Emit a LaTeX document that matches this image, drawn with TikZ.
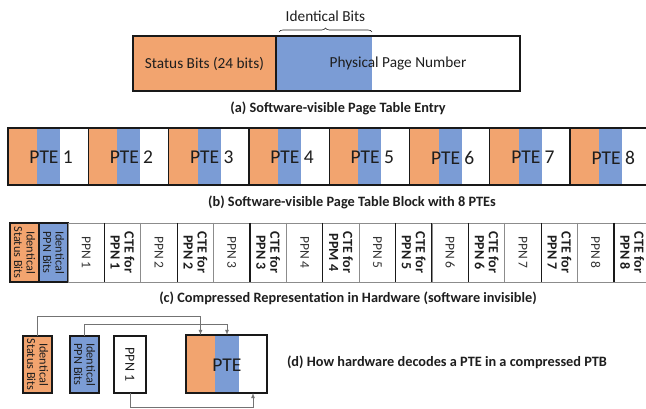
\documentclass[tikz,border=0pt]{standalone}
\usepackage{fontspec}
\setmainfont{Carlito}
\usetikzlibrary{positioning,arrows,calc,decorations.pathreplacing}
\definecolor{stat}{HTML}{F2A46F}
\definecolor{ppn}{HTML}{7B9CD5}
\definecolor{ink}{HTML}{1E1E1E}
\tikzset{
	every node/.style = {inner sep = 0pt, outer sep = 0pt, text = ink},
	part/.style = {anchor = north west, minimum height = #1},
	part/.default = 57,
	box/.style = {draw = black!90, line width = 1.3pt},
	hwcell/.style = {anchor = north west, minimum height = 59, minimum width = 36.4},
	vlbl/.style = {rotate = -90, align = center, font = \fontsize{13.5}{14}\selectfont},
	pte/.style = {font = \fontsize{19.5}{21}\selectfont},
	caption/.style = {font = \bfseries\fontsize{14.3}{16}\selectfont},
	link/.style = {draw = black!55, line width = 0.8pt},
	>=latex
}

\begin{document}
\begin{tikzpicture}[x=1pt, y=-1pt]
	\useasboundingbox (0,0) rectangle (646,409);

	% (a) one page table entry
	\node[part=55, fill=stat, minimum width=143] (a-st) at (133,36) {};
	\node[part=55, fill=ppn, minimum width=96, right=0pt of a-st] (a-id) {};
	\node[part=55, minimum width=148, right=0pt of a-id] (a-wh) {};
	\draw[box] (a-st.north west) rectangle (a-wh.south east);
	\draw[box] (a-st.north east) -- (a-st.south east);
	\node[font=\fontsize{15.3}{17}\selectfont] (a-stl) at (a-st) {Status Bits (24 bits)};
	\node[font=\fontsize{15.3}{17}\selectfont] (a-ppl) at ($(a-id.west)!0.5!(a-wh.east)$) {Physical Page Number};
	\draw[link, draw=ink, line width=0.6pt, decorate, decoration={brace, amplitude=4pt}]
		($(a-id.north west)+(3,-4)$) -- ($(a-id.north east)+(0,-4)$) node[midway, above=10pt, font=\fontsize{15.3}{17}\selectfont] (a-brl) {Identical Bits};
	\node[caption] (a-cap) at (338,108) {(a) Software-visible Page Table Entry};

	% (b) eight PTEs in a block
	\foreach \i in {1,...,8}{
		\node[part, fill=stat, minimum width=29] (b-st\i) at ({8+(\i-1)*80.3},128) {};
		\node[part, fill=ppn, minimum width=23, right=0pt of b-st\i] (b-id\i) {};
		\node[part, minimum width=28.3, right=0pt of b-id\i] (b-wh\i) {};
		\draw[box] (b-st\i.north west) rectangle (b-wh\i.south east);
		\node[pte] (b-lbl\i) at ($(b-st\i.west)!0.5!(b-wh\i.east)+(3,1)$) {PTE \i};
	}
	\node[caption] (b-cap) at (352,202) {(b) Software-visible Page Table Block with 8 PTEs};

	% (c) compressed form
	\node[hwcell, minimum width=29, fill=stat, box] (c-st) at (10,223) {};
	\node[hwcell, minimum width=29, fill=ppn, box, right=0pt of c-st] (c-id) {};
	\node[vlbl, font=\fontsize{12.3}{12.5}\selectfont] (c-stl) at (c-st) {Identical\\Status Bits};
	\node[vlbl, font=\fontsize{12.3}{12.5}\selectfont] (c-idl) at (c-id) {Identical\\PPN Bits};
	\foreach \i in {1,...,8}{
		\node[hwcell, draw=black!45, line width=0.7pt] (c-pp\i) at ({68+(\i-1)*72.8},223) {};
		\node[hwcell, right=0pt of c-pp\i] (c-ct\i) {};
		\draw[draw=black!45, line width=0.7pt] (c-ct\i.north west) -- (c-ct\i.north east) (c-ct\i.south west) -- (c-ct\i.south east);
		\draw[box, line width=1.1pt] (c-ct\i.north west) -- (c-ct\i.south west) (c-ct\i.north east) -- (c-ct\i.south east);
		\node[vlbl, text=black!80] (c-ppl\i) at (c-pp\i) {PPN \i};
		\node[vlbl, font=\bfseries\fontsize{14}{14}\selectfont] (c-ctl\i) at (c-ct\i) {CTE for\\PP\ifnum\i=4 M\else N\fi{} \i};
	}
	\node[caption] (c-cap) at (348,298) {(c) Compressed Representation in Hardware (software invisible)};

	% (d) decoding one PTE
	\node[part, minimum width=29, fill=stat, box] (d-st) at (23,336) {};
	\node[part, minimum width=29, fill=ppn, box] (d-id) at (70,336) {};
	\node[part, minimum width=32, box] (d-pp) at (114,336) {};
	\node[vlbl, font=\fontsize{12.3}{12.5}\selectfont] (d-stl) at (d-st) {Identical\\Status Bits};
	\node[vlbl, font=\fontsize{12.3}{12.5}\selectfont] (d-idl) at (d-id) {Identical\\PPN Bits};
	\node[vlbl, font=\fontsize{14}{14}\selectfont] (d-ppl) at (d-pp) {PPN 1};
	\node[part=58, fill=stat, minimum width=29] (d-pst) at (186,335) {};
	\node[part=58, fill=ppn, minimum width=24, right=0pt of d-pst] (d-pid) {};
	\node[part=58, minimum width=28, right=0pt of d-pid] (d-pwh) {};
	\draw[box] (d-pst.north west) rectangle (d-pwh.south east);
	\node[pte] (d-ptel) at (227,365) {PTE};

	\draw[link, ->] (d-st.north) -- ++(0,-20) -| (d-pst.north);
	\draw[link, ->] (d-id.north) -- ++(0,-12) -| (d-pid.north);
	\draw[link, ->] (d-pp.south) -- ++(0,14) -| (d-pwh.south);

	\node[caption, anchor=west] (d-cap) at (287,362) {(d) How hardware decodes a PTE in a compressed PTB};
\end{tikzpicture}
\end{document}
